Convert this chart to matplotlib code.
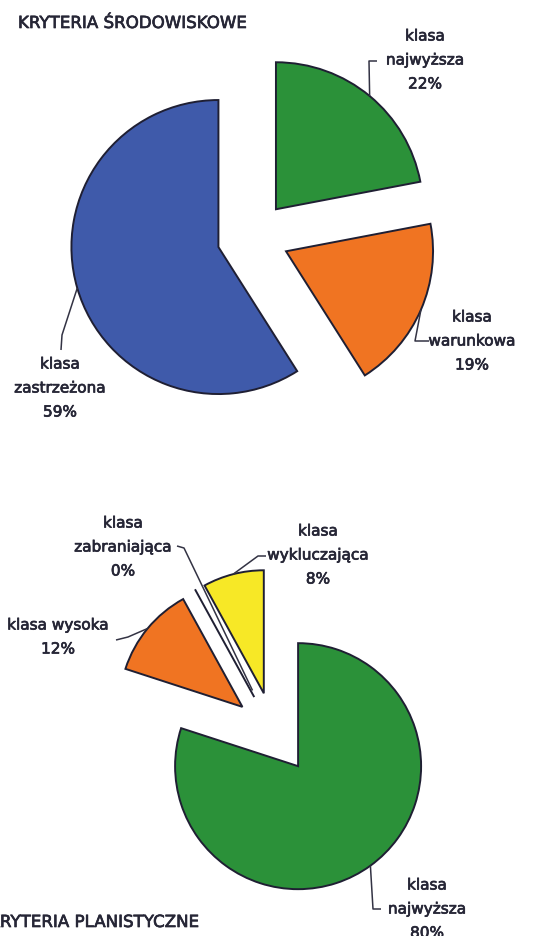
import numpy as np
import matplotlib
matplotlib.use("Agg")
import matplotlib.pyplot as plt
import matplotlib.patheffects as pe

# --- data ---
TOP_TITLE = "KRYTERIA ŚRODOWISKOWE"
TOP_LABELS = ["klasa\nzastrzeżona", "klasa\nwarunkowa", "klasa\nnajwyższa"]
TOP_VALUES = [59, 19, 22]
TOP_COLORS = ["#3f5aaa", "#f07422", "#2b9139"]

BOT_TITLE = "KRYTERIA PLANISTYCZNE"
BOT_LABELS = ["klasa\nnajwyższa", "klasa wysoka", "klasa\nzabraniająca", "klasa\nwykluczająca"]
BOT_VALUES = [80, 12, 0, 8]
BOT_COLORS = ["#2b9139", "#f07422", "#ffffff", "#f7e826"]

W, H = 542, 936
EDGE = "#1f1f33"
TXT = "#262636"
FONT = "DejaVu Sans"
HEAVY = [pe.withStroke(linewidth=0.5, foreground=TXT)]


def py(y):
    """image row (from top) -> data y (from bottom)"""
    return H - y


fig = plt.figure(figsize=(W / 100, H / 100), dpi=100)
ax = fig.add_axes([0, 0, 1, 1])

# top pie: all slices pulled out by the same distance
top_w, _ = ax.pie(TOP_VALUES, colors=TOP_COLORS, startangle=90, counterclock=True,
                  explode=[36] * 3, center=(253, py(237)), radius=147,
                  wedgeprops=dict(edgecolor=EDGE, linewidth=1.4))
bot_w, _ = ax.pie(BOT_VALUES, colors=BOT_COLORS, startangle=90, counterclock=False,
                  explode=[41] * 4, center=(274, py(733)), radius=123,
                  wedgeprops=dict(edgecolor=EDGE, linewidth=1.4))
ax.set_xlim(0, W)
ax.set_ylim(0, H)
ax.set_aspect("equal")
ax.axis("off")


def rim(w, frac=1.0):
    t = np.deg2rad(0.5 * (w.theta1 + w.theta2))
    cx, cy = w.center
    return cx + frac * w.r * np.cos(t), cy + frac * w.r * np.sin(t)


def txt(s, x, y, ha="center", size=11):
    ax.text(x, py(y), s, ha=ha, va="center", fontsize=size, family=FONT, color=TXT,
            linespacing=1.75, path_effects=HEAVY)


def lab(text, x, y, pct):
    txt(f"{text}\n{pct}%", x, y)


def leader(pts):
    xs, ys = zip(*pts)
    ax.plot(xs, ys, color="#333344", lw=1.1, solid_capstyle="butt")


txt(TOP_TITLE, 18, 23, ha="left", size=12)
txt(BOT_TITLE, -11, 922, ha="left", size=12)

# top labels (middle line positioned)
blue, orange, green = top_w
lab(TOP_LABELS[2], 425, 60, TOP_VALUES[2])
leader([rim(green), (369, py(61)), (377, py(61))])
lab(TOP_LABELS[1], 472, 341, TOP_VALUES[1])
leader([rim(orange), (415, py(341)), (429, py(341))])
lab(TOP_LABELS[0], 60, 388, TOP_VALUES[0])
leader([rim(blue), (62, py(335)), (61, py(350))])

# bottom labels
g2, o2, z2, y2 = bot_w
lab(BOT_LABELS[3], 318, 555, BOT_VALUES[3])
leader([rim(y2), (258, py(556)), (266, py(556))])
lab(BOT_LABELS[2], 123, 547, BOT_VALUES[2])
zx, zy = rim(z2, 0.08)
leader([(177, py(546)), (184, py(548)), (zx + 3, zy - 2)])
txt(f"{BOT_LABELS[1]}\n{BOT_VALUES[1]}%", 58, 637)
leader([rim(o2), (128, py(637)), (116, py(640))])
lab(BOT_LABELS[0], 427, 909, BOT_VALUES[0])
leader([rim(g2), (373, py(909)), (381, py(909))])

fig.savefig("out.png", dpi=100, facecolor="white")
